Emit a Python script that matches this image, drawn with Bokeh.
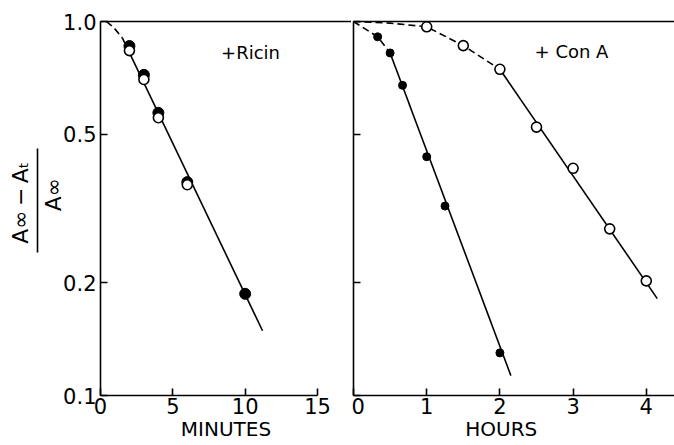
import numpy as np
from bokeh.plotting import figure
from bokeh.models import (FixedTicker, LinearAxis, Label, Range1d, PrintfTickFormatter,
                          CustomJSTickFormatter)
from bokeh.layouts import row
from bokeh.embed import file_html
from bokeh.resources import INLINE

# ---------------- data ----------------
ricin_minutes_filled = [2, 3, 4, 6, 10]
ricin_filled = [0.86, 0.72, 0.57, 0.372, 0.187]
ricin_minutes_open = [2, 3, 4, 6]
ricin_open = [0.836, 0.70, 0.553, 0.366]
ricin_fit_minutes = [1.5, 11.2]
ricin_fit = [0.905, 0.149]
ricin_lag_minutes = [0.4, 0.9, 1.5]
ricin_lag = [1.0, 0.965, 0.905]

cona_hours_filled = [0.33, 0.5, 0.67, 1.0, 1.25, 2.0]
cona_filled = [0.91, 0.824, 0.675, 0.435, 0.321, 0.130]
cona_hours_open = [1.0, 1.5, 2.0, 2.5, 3.0, 3.5, 4.0]
cona_open = [0.968, 0.862, 0.745, 0.522, 0.405, 0.279, 0.2025]
cona_filled_fit_hours = [0.5, 2.15]
cona_filled_fit = [0.824, 0.113]
cona_filled_lag_hours = [0.0, 0.33, 0.5]
cona_filled_lag = [1.0, 0.91, 0.824]
cona_open_fit_hours = [2.0, 4.15]
cona_open_fit = [0.745, 0.1816]
cona_open_lag_hours = [0.0, 0.5, 1.0, 1.5, 2.0]
cona_open_lag = [1.0, 0.99, 0.968, 0.862, 0.745]

y_ticks = [0.1, 0.2, 0.5, 1.0]
minute_ticks = [0, 5, 10, 15]
hour_ticks = [0, 1, 2, 3, 4]

y_numerator = "A\u221e\u2009\u2212\u2009A\u209c"
y_denominator = "A\u221e"
x_label_left = "MINUTES"
x_label_right = "HOURS"

# ---------------- layout constants ----------------
FONT = "DejaVu Sans"
H = 445
TOP = 21
FRAME_H = 374
BOTTOM = H - TOP - FRAME_H
LEFT1 = 100
W1 = 351
W2 = 674 - W1
PX_PER_MIN = 217 / 15.0
PX_PER_HOUR = 73.2
LW = 1.6
DASH = "7 4"


def minute_at(px):
    return (px - LEFT1) / PX_PER_MIN


def yval_at(py):
    return 10 ** (-(py - TOP) / FRAME_H)


def hour_at(px):
    return (px - 353) / PX_PER_HOUR


def bare_axis(**kw):
    ax = LinearAxis(ticker=FixedTicker(ticks=[]), major_tick_line_color=None,
                    minor_tick_line_color=None, axis_line_width=LW, axis_line_color="black",
                    axis_label_text_font=FONT, axis_label_text_font_style="normal",
                    axis_label_text_color="black", **kw)
    return ax


def style_common(p):
    p.outline_line_color = None
    p.grid.visible = False
    p.background_fill_color = "white"
    p.border_fill_color = "white"


def style_axis(ax, ticks, show_labels=True, size="21px"):
    ax.ticker = FixedTicker(ticks=ticks)
    ax.major_tick_in = 7
    ax.major_tick_out = 0
    ax.minor_tick_line_color = None
    ax.axis_line_width = LW
    ax.axis_line_color = "black"
    ax.major_tick_line_width = LW
    ax.major_tick_line_color = "black"
    ax.major_label_text_font = FONT
    ax.major_label_text_color = "black"
    ax.axis_label_text_font = FONT
    ax.axis_label_text_font_style = "normal"
    ax.axis_label_text_color = "black"
    if show_labels:
        ax.major_label_text_font_size = size
        ax.major_label_standoff = 2
    else:
        ax.formatter = CustomJSTickFormatter(code="return ''")
        ax.major_label_standoff = 0


# ---------------- left panel: + Ricin ----------------
p1 = figure(width=W1, height=H, y_axis_type="log",
            x_range=Range1d(0, (W1 - LEFT1) / PX_PER_MIN), y_range=Range1d(0.1, 1.0),
            output_backend="svg", toolbar_location=None,
            min_border_left=LEFT1, min_border_right=0, min_border_top=TOP, min_border_bottom=BOTTOM)
style_common(p1)
xb1 = p1.below[0]
style_axis(xb1, minute_ticks)
xb1.bounds = (0, 15)
xb1.axis_label = x_label_left
xb1.axis_label_text_font_size = "20px"
xb1.axis_label_standoff = 0
yl1 = p1.left[0]
style_axis(yl1, y_ticks)
yl1.formatter = PrintfTickFormatter(format="%.1f")
yl1.major_label_standoff = 4
p1.add_layout(bare_axis(), "above")

# fraction label: denominator axis (no line), then bar axis carrying the numerator
den_axis = bare_axis(axis_label="\u00a0" * 4 + y_denominator, axis_label_text_font_size="22px",
                     axis_label_standoff=-5)
den_axis.axis_line_color = None
p1.add_layout(den_axis, "left")
bar_axis = bare_axis(axis_label="\u00a0\u2009" + y_numerator, axis_label_text_font_size="22px",
                     axis_label_standoff=5, bounds=(yval_at(252), yval_at(148)))
p1.add_layout(bar_axis, "left")

p1.line(ricin_lag_minutes, ricin_lag, line_color="black", line_width=LW, line_dash=DASH)
p1.line(ricin_fit_minutes, ricin_fit, line_color="black", line_width=LW)
p1.scatter(ricin_minutes_filled, ricin_filled, marker="circle", size=11,
           fill_color="black", line_color="black", line_width=1)
p1.scatter(ricin_minutes_open, ricin_open, marker="circle", size=10,
           fill_color="white", line_color="black", line_width=LW)

p1.add_layout(Label(x=minute_at(250), y=yval_at(51.5), text="+Ricin", text_font=FONT,
                    text_font_size="18px", text_color="black",
                    text_align="center", text_baseline="middle"))

# ---------------- right panel: + Con A ----------------
p2 = figure(width=W2, height=H, y_axis_type="log",
            x_range=Range1d(0, (674 - 353) / PX_PER_HOUR), y_range=Range1d(0.1, 1.0),
            output_backend="svg", toolbar_location=None,
            min_border_left=2, min_border_right=0, min_border_top=TOP, min_border_bottom=BOTTOM)
style_common(p2)
xb2 = p2.below[0]
style_axis(xb2, hour_ticks)
xb2.axis_label = x_label_right + "\u00a0" * 4
xb2.axis_label_text_font_size = "20px"
xb2.axis_label_standoff = 0
style_axis(p2.left[0], y_ticks, show_labels=False)
p2.add_layout(bare_axis(), "above")

p2.line(cona_filled_lag_hours, cona_filled_lag, line_color="black", line_width=LW, line_dash=DASH)
p2.line(cona_filled_fit_hours, cona_filled_fit, line_color="black", line_width=LW)
p2.line(cona_open_lag_hours, cona_open_lag, line_color="black", line_width=LW, line_dash=DASH)
p2.line(cona_open_fit_hours, cona_open_fit, line_color="black", line_width=LW)
p2.scatter(cona_hours_filled, cona_filled, marker="circle", size=8,
           fill_color="black", line_color="black", line_width=1)
p2.scatter(cona_hours_open, cona_open, marker="circle", size=10,
           fill_color="white", line_color="black", line_width=LW)

p2.add_layout(Label(x=hour_at(571), y=yval_at(51), text="+ Con A", text_font=FONT,
                    text_font_size="18px", text_color="black",
                    text_align="center", text_baseline="middle"))

layout = row(p1, p2, spacing=0)
open("out.html", "w").write(file_html(layout, INLINE))
